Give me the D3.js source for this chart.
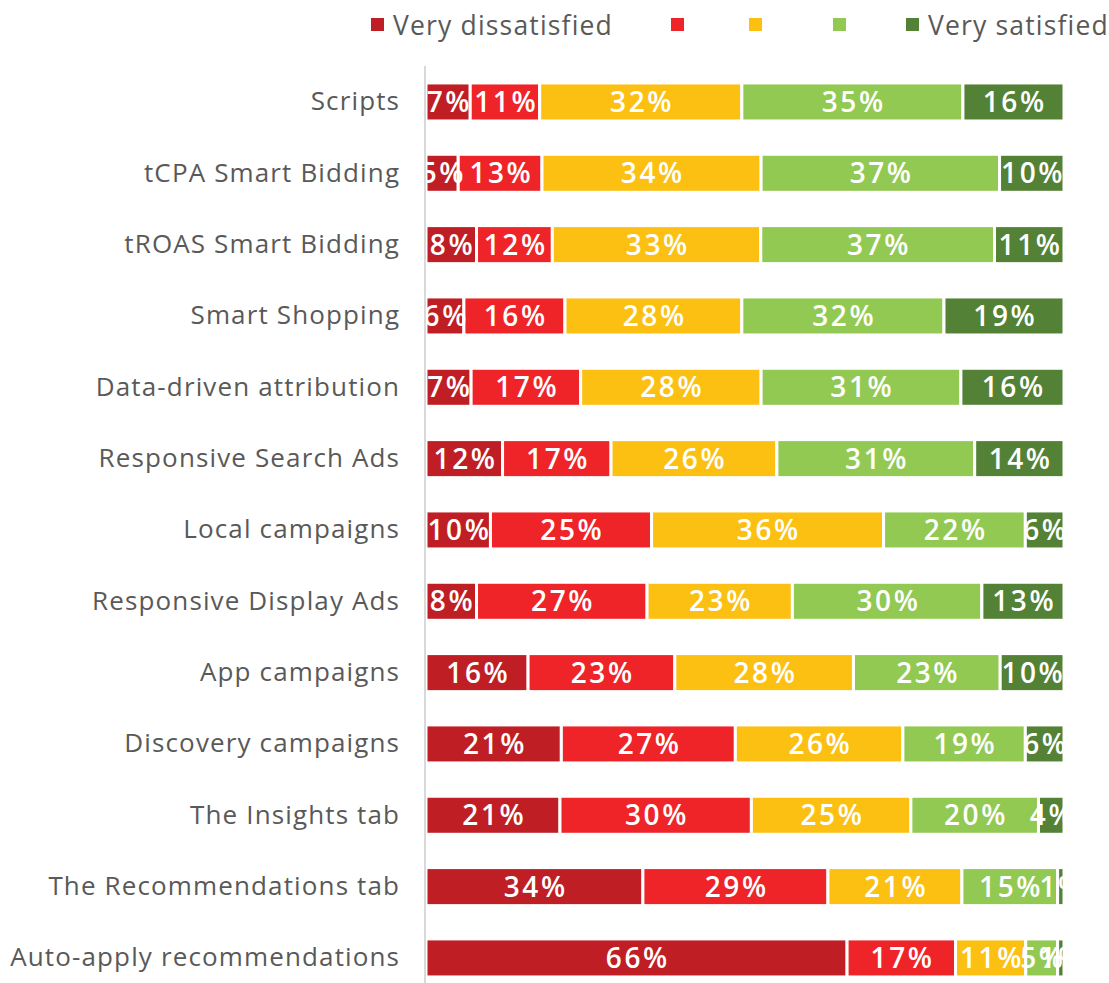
<!DOCTYPE html>
<html><head><meta charset="utf-8">
<script src="https://cdn.jsdelivr.net/npm/d3@7"></script>
<style>body{margin:0;background:#fff;} svg{display:block;}</style>
</head><body>
<svg id="c" width="1109" height="983"></svg>
<script>
const categories = ["Scripts","tCPA Smart Bidding","tROAS Smart Bidding","Smart Shopping","Data-driven attribution","Responsive Search Ads","Local campaigns","Responsive Display Ads","App campaigns","Discovery campaigns","The Insights tab","The Recommendations tab","Auto-apply recommendations"];
const seriesNames = ["Very dissatisfied","Dissatisfied","Neutral","Satisfied","Very satisfied"];
const legendLabels = ["Very dissatisfied","","","","Very satisfied"];
const veryDissatisfied = [7,5,8,6,7,12,10,8,16,21,21,34,66];
const dissatisfied     = [11,13,12,16,17,17,25,27,23,27,30,29,17];
const neutral          = [32,34,33,28,28,26,36,23,28,26,25,21,11];
const satisfied        = [35,37,37,32,31,31,22,30,23,19,20,15,5];
const verySatisfied    = [16,10,11,19,16,14,6,13,10,6,4,1,1];
const colors = ["#BE1E24","#EE2429","#FCC013","#92C953","#538135"];

const FONT = "'Open Sans', sans-serif";
const seriesValues = [veryDissatisfied,dissatisfied,neutral,satisfied,verySatisfied];
const rows = categories.map((c,i)=>{const o={cat:c}; seriesNames.forEach((s,j)=>o[s]=seriesValues[j][i]); return o;});
const stacked = d3.stack().keys(seriesNames).offset(d3.stackOffsetExpand)(rows);

const svg = d3.select("#c");
const x0=426, x1=1064;
const x = d3.scaleLinear().domain([0,1]).range([x0,x1]);
const y = d3.scaleBand().domain(categories).range([66.3,993.6]).paddingInner(0.467).paddingOuter(0.2335);

function spacingFor(str, size, weight, target){
  const t = svg.append("text").attr("font-family",FONT).attr("font-size",size).attr("font-weight",weight).text(str);
  const w = t.node().getComputedTextLength(); t.remove();
  return Math.max(0,(target - w)/str.length);
}
const catLS = spacingFor("Auto-apply recommendations",26,400,390);
const pctLS = spacingFor("32%",28,600,64);
const legLS = spacingFor("Very dissatisfied",26.5,400,220);

svg.append("defs").append("clipPath").attr("id","pc").append("rect")
  .attr("x",x0).attr("y",0).attr("width",x1-x0).attr("height",983);

const g = svg.append("g");
const layers = g.selectAll("g.s").data(stacked).join("g").attr("fill",(d,i)=>colors[i]);
layers.selectAll("rect").data(d=>d.map(v=>({v,key:d.key}))).join("rect")
  .attr("x",d=>x(d.v[0])).attr("width",d=>Math.max(0,x(d.v[1])-x(d.v[0])))
  .attr("y",d=>y(d.v.data.cat)).attr("height",y.bandwidth())
  .attr("stroke","#fff").attr("stroke-width",3);

const lab = svg.append("g").attr("clip-path","url(#pc)");
stacked.forEach((s)=>{
  lab.selectAll(null).data(s).join("text")
    .attr("x",d=>(x(d[0])+x(d[1]))/2 + pctLS/2)
    .attr("y",d=>y(d.data.cat)+y.bandwidth()/2)
    .attr("dy","0.36em").attr("text-anchor","middle")
    .attr("font-family",FONT).attr("font-weight",600).attr("font-size",28)
    .attr("letter-spacing",pctLS)
    .attr("fill","#fff").text(d=>d.data[s.key]+"%");
});

const yAxis = d3.axisLeft(y).tickSize(0).tickPadding(26 - catLS);
const ax = svg.append("g").attr("transform",`translate(${x0-1},0)`).call(yAxis);
ax.select(".domain").remove();
ax.selectAll("text").attr("font-family",FONT).attr("font-size",26).attr("fill","#595959")
  .attr("letter-spacing",catLS);
svg.append("line").attr("x1",x0-1).attr("x2",x0-1).attr("y1",66).attr("y2",983)
  .attr("stroke","#D9D9D9").attr("stroke-width",2);

const legendX = [371,671,749,833,906];
const lg = svg.append("g");
legendLabels.forEach((t,i)=>{
  lg.append("rect").attr("x",legendX[i]).attr("y",18).attr("width",13).attr("height",13).attr("fill",colors[i]);
  lg.append("text").attr("x",legendX[i]+22).attr("y",25).attr("dy","0.36em")
    .attr("font-family",FONT).attr("font-size",26.5).attr("fill","#595959")
    .attr("letter-spacing",legLS).text(t);
});
</script>
</body></html>
